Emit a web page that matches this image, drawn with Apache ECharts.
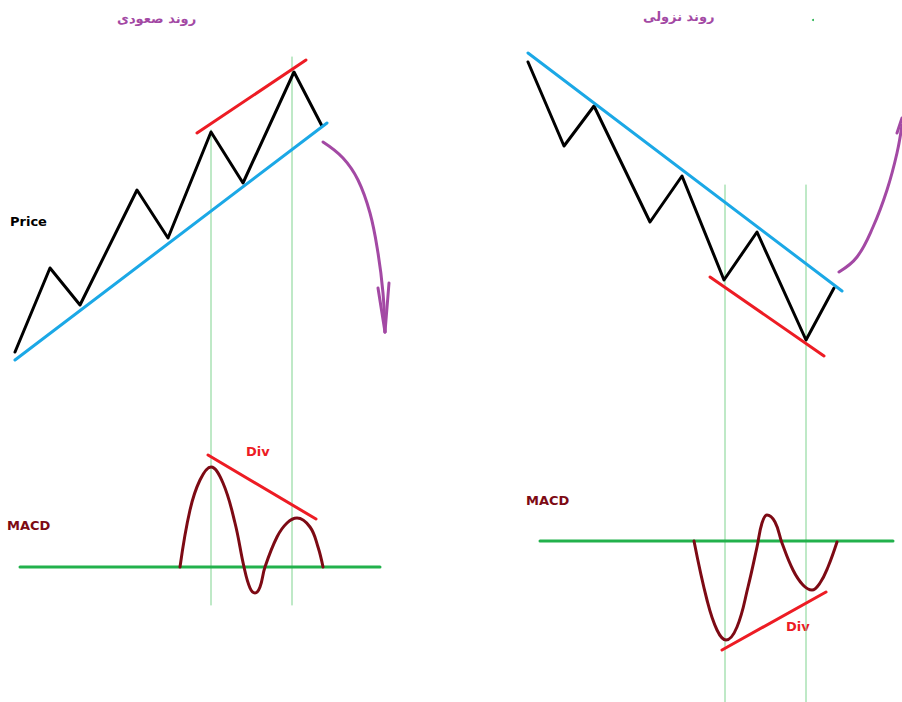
<!DOCTYPE html>
<html>
<head>
<meta charset="utf-8">
<script src="https://cdn.jsdelivr.net/npm/echarts@6/dist/echarts.min.js"></script>
<style>html,body{margin:0;padding:0;background:#fff}#c{width:902px;height:702px}</style>
</head>
<body>
<div id="c"></div>
<script>
// ---- Data (diagram coordinates; x to the right, y downwards) ----
const upPrice = [[15,352],[50,268],[80,305],[137,190],[168,238],[211,132],[243,183],[294,72],[322,126]];
const upTrend = [[15,360],[327,123]];
const upPriceDiv = [[197,133],[306,60]];
const upMacd = [[180,567],[190,510],[200,480],[211,467],[223,483],[235,523],[244,567],[250,588],[255,593],[260,587],[265,567],[277,537],[287,523],[297,518],[310,527],[318,547],[323,567]];
const upMacdDiv = [[208,455],[316,519]];
const upZero = [[20,567],[380,567]];
const upGuideA = [[211,130],[211,605]];
const upGuideB = [[292,57],[292,605]];
const upArrow = [[323,142],[343,158],[358,180],[370,213],[378,253],[383,293],[385,332]];
const upArrowHeadL = [[378,288],[385,332]];
const upArrowHeadR = [[389,283],[385,332]];

const downPrice = [[528,62],[564,146],[594,106],[650,222],[682,176],[724,280],[757,232],[806,340],[834,288]];
const downTrend = [[528,53],[842,291]];
const downPriceDiv = [[710,277],[824,356]];
const downMacd = [[694,541],[707,600],[717,630],[726,640],[737,627],[748,587],[757,547],[762,523],[767,515],[775,522],[782,543],[793,570],[803,585],[812,590],[820,583],[828,567],[837,542]];
const downMacdDiv = [[722,650],[826,592]];
const downZero = [[540,541],[893,541]];
const downGuideA = [[725,185],[725,702]];
const downGuideB = [[806,185],[806,702]];
const downArrow = [[839,272],[857,257],[873,227],[887,190],[897,153],[902,125]];
const downArrowHook = [[897,133],[902,118]];

const titles = ['روند صعودی', 'روند نزولی'];
const labels = ['Price', 'MACD', 'MACD', 'Div', 'Div'];

const C = {
  black:'#000000', blue:'#1ba8e6', red:'#ed1c24', macd:'#7d0a14',
  zero:'#22b14c', guide:'#7fd38f', purple:'#a349a4'
};

function ln(data, color, width, smooth, z) {
  return {type:'line', data:data, smooth:smooth||false, showSymbol:false, symbol:'none',
    lineStyle:{color:color, width:width, cap:'round', join:'round'}, z:z||2, silent:true, animation:false};
}

const series = [
  ln(upGuideA, C.guide, 1, false, 1), ln(upGuideB, C.guide, 1, false, 1),
  ln(downGuideA, C.guide, 1, false, 1), ln(downGuideB, C.guide, 1, false, 1),
  ln(upPrice, C.black, 3), ln(upTrend, C.blue, 3), ln(upPriceDiv, C.red, 3),
  ln(upZero, C.zero, 3), ln(upMacd, C.macd, 3, 0.4, 3), ln(upMacdDiv, C.red, 3),
  ln(upArrow, C.purple, 3, 0.4), ln(upArrowHeadL, C.purple, 3), ln(upArrowHeadR, C.purple, 3),
  ln(downPrice, C.black, 3), ln(downTrend, C.blue, 3), ln(downPriceDiv, C.red, 3),
  ln(downZero, C.zero, 3), ln(downMacd, C.macd, 3, 0.4, 3), ln(downMacdDiv, C.red, 3),
  ln(downArrow, C.purple, 3, 0.4), ln(downArrowHook, C.purple, 3)
];

const chart = echarts.init(document.getElementById('c'), null, {renderer:'svg'});
chart.setOption({
  backgroundColor:'#ffffff',
  animation:false,
  grid:{left:0, right:0, top:0, bottom:0},
  xAxis:{type:'value', min:0, max:902, show:false},
  yAxis:{type:'value', min:0, max:702, inverse:true, show:false},
  series: series,
  graphic:[
    {type:'text', left:117, top:12, style:{text:titles[0], fill:C.purple, font:'bold 13px "DejaVu Sans", sans-serif'}},
    {type:'text', left:643, top:10, style:{text:titles[1], fill:C.purple, font:'bold 13px "DejaVu Sans", sans-serif'}},
    {type:'text', left:10, top:215, style:{text:labels[0], fill:'#000', font:'bold 13px "DejaVu Sans", sans-serif'}},
    {type:'text', left:7, top:519, style:{text:labels[1], fill:C.macd, font:'bold 13px "DejaVu Sans", sans-serif'}},
    {type:'text', left:526, top:494, style:{text:labels[2], fill:C.macd, font:'bold 13px "DejaVu Sans", sans-serif'}},
    {type:'text', left:246, top:445, style:{text:labels[3], fill:C.red, font:'bold 13px "DejaVu Sans", sans-serif'}},
    {type:'text', left:786, top:620, style:{text:labels[4], fill:C.red, font:'bold 13px "DejaVu Sans", sans-serif'}},
    {type:'circle', shape:{cx:813, cy:20, r:1}, style:{fill:C.zero}}
  ]
});
</script>
</body>
</html>
